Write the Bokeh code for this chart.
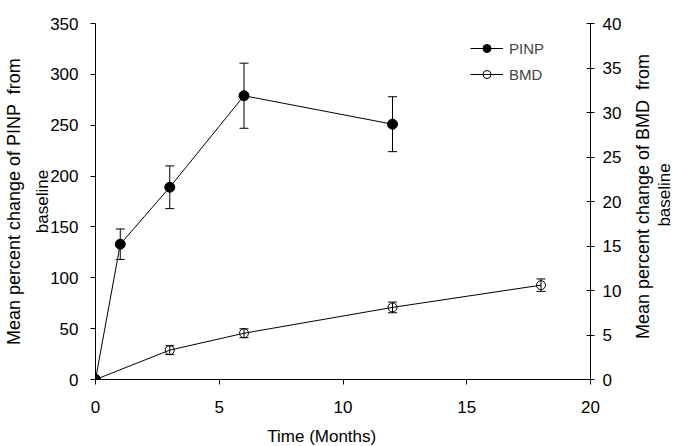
import math
from bokeh.plotting import figure
from bokeh.layouts import row
from bokeh.models import (ColumnDataSource, Range1d, LinearAxis, Whisker, TeeHead,
                          Legend, LegendItem, FixedTicker)
from bokeh.core.properties import value
from bokeh.embed import file_html
from bokeh.resources import INLINE

# Data
pinp_x = [0, 1, 3, 6, 12]
pinp_y = [0, 133, 189, 279, 251]
pinp_err = [0, 15, 21, 32, 27]

bmd_x = [0, 3, 6, 12, 18]
bmd_y = [0, 3.3, 5.2, 8.1, 10.6]
bmd_err = [0, 0.5, 0.5, 0.6, 0.7]

x_ticks = [0, 5, 10, 15, 20]
left_ticks = [0, 50, 100, 150, 200, 250, 300, 350]
right_ticks = [0, 5, 10, 15, 20, 25, 30, 35, 40]

x_title = "Time (Months)"
left_title_lines = ["Mean percent change of PINP \u00a0from", "baseline"]
right_title_lines = ["Mean percent change of BMD \u00a0from", "baseline"]

FONT = "Liberation Sans"
FS = "17px"
TFS = "17px"
LFS = "18px"

p = figure(width=633, height=446, frame_width=495, frame_height=356,
           x_range=Range1d(0, 20), y_range=Range1d(0, 350),
           output_backend="svg", toolbar_location=None,
           min_border_left=95, min_border_right=43, min_border_top=23, min_border_bottom=67)
p.extra_y_ranges = {"bmd": Range1d(0, 40)}
p.outline_line_color = None
p.xgrid.visible = False
p.ygrid.visible = False
p.background_fill_color = "white"
p.border_fill_color = "white"

def style_axis(ax, tick_in, tick_out, standoff):
    ax.axis_line_color = "black"
    ax.major_tick_line_color = "black"
    ax.minor_tick_line_color = None
    ax.major_tick_in = tick_in
    ax.major_tick_out = tick_out
    ax.major_label_text_font = FONT
    ax.major_label_text_font_size = FS
    ax.major_label_text_color = "black"
    ax.major_label_standoff = standoff
    ax.axis_label_text_font = FONT
    ax.axis_label_text_font_size = TFS
    ax.axis_label_text_font_style = "normal"
    ax.axis_label_text_color = "black"

p.xaxis.ticker = FixedTicker(ticks=x_ticks)
p.yaxis.ticker = FixedTicker(ticks=left_ticks)
style_axis(p.xaxis[0], 0, 5, 16)
style_axis(p.yaxis[0], 0, 5, 12)
# trailing no-break spaces shift the centred title left, as in the original
p.xaxis.axis_label = x_title + "\u00a0" * 9
p.xaxis.axis_label_standoff = 11
p.yaxis.axis_label = left_title_lines[1]
p.yaxis.axis_label_standoff = -5

louter = LinearAxis(ticker=FixedTicker(ticks=[]))
style_axis(louter, 0, 0, 0)
louter.axis_line_color = None
louter.major_tick_line_color = None
louter.axis_label = left_title_lines[0]
louter.axis_label_text_font_size = LFS
louter.axis_label_standoff = 7
p.add_layout(louter, "left")

raxis = LinearAxis(y_range_name="bmd", ticker=FixedTicker(ticks=right_ticks))
style_axis(raxis, 4, 4, 8)
p.add_layout(raxis, "right")

src_p = ColumnDataSource(dict(x=pinp_x, y=pinp_y,
                              lo=[v - e for v, e in zip(pinp_y, pinp_err)],
                              hi=[v + e for v, e in zip(pinp_y, pinp_err)]))
src_b = ColumnDataSource(dict(x=bmd_x, y=bmd_y,
                              lo=[v - e for v, e in zip(bmd_y, bmd_err)],
                              hi=[v + e for v, e in zip(bmd_y, bmd_err)]))

wb = Whisker(source=src_b, base="x", upper="hi", lower="lo", y_range_name="bmd",
             line_color="black", line_width=1,
             upper_head=TeeHead(size=9, line_color="black", line_width=1),
             lower_head=TeeHead(size=9, line_color="black", line_width=1))
p.add_layout(wb)
lb = p.line("x", "y", source=src_b, y_range_name="bmd", line_color="black", line_width=1)
sb = p.scatter("x", "y", source=src_b, y_range_name="bmd", marker="circle", size=9,
               fill_color="white", fill_alpha=0, line_color="black", line_width=1)

wp = Whisker(source=src_p, base="x", upper="hi", lower="lo",
             line_color="black", line_width=1,
             upper_head=TeeHead(size=9, line_color="black", line_width=1),
             lower_head=TeeHead(size=9, line_color="black", line_width=1))
p.add_layout(wp)
lp = p.line("x", "y", source=src_p, line_color="black", line_width=1)
sp = p.scatter("x", "y", source=src_p, marker="circle", size=10,
               fill_color="black", line_color="black")

legend = Legend(items=[LegendItem(label="PINP", renderers=[lp, sp]),
                       LegendItem(label="BMD", renderers=[lb, sb])],
                location=(375, 295), glyph_width=33, glyph_height=20,
                label_height=20, spacing=6, padding=0, margin=0, label_standoff=6,
                border_line_color=None, background_fill_alpha=0,
                label_text_font=FONT, label_text_font_size="15px")
p.add_layout(legend)

# Side panel holding the right-hand axis title (reads bottom to top)
side = figure(width=40, height=446, x_range=Range1d(633, 673), y_range=Range1d(446, 0),
              output_backend="svg", toolbar_location=None,
              x_axis_location=None, y_axis_location=None,
              min_border=0, min_border_left=0, min_border_right=0,
              min_border_top=0, min_border_bottom=0)
side.outline_line_color = None
side.xgrid.visible = False
side.ygrid.visible = False
side.background_fill_color = "white"
side.border_fill_color = "white"
side.text(x=[642], y=[218], text=[right_title_lines[0]], angle=math.pi / 2,
          text_align="center", text_baseline="middle",
          text_font=value(FONT), text_font_size=value(LFS), text_color="black")
side.text(x=[664], y=[216], text=[right_title_lines[1]], angle=math.pi / 2,
          text_align="center", text_baseline="middle",
          text_font=value(FONT), text_font_size=value(TFS), text_color="black")

layout = row(p, side, spacing=0)
open("out.html", "w").write(file_html(layout, INLINE))
